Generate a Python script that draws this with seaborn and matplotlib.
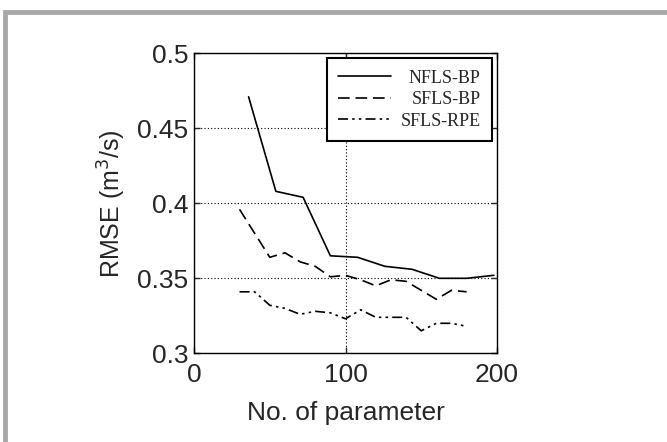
import numpy as np
import pandas as pd
import seaborn as sns
import matplotlib
matplotlib.use("Agg")
import matplotlib.pyplot as plt
from matplotlib.patches import Rectangle

# values
nfls_bp_x = [36, 54, 72, 90, 108, 126, 144, 162, 180, 198]
nfls_bp_y = [0.471, 0.408, 0.404, 0.365, 0.364, 0.358, 0.356, 0.350, 0.350, 0.352]

sfls_bp_x = [30, 50, 60, 70, 80, 90, 100, 110, 120, 130, 140, 150, 160, 170, 180]
sfls_bp_y = [0.396, 0.364, 0.367, 0.361, 0.358, 0.351, 0.352, 0.349, 0.345,
             0.349, 0.348, 0.342, 0.336, 0.342, 0.341]

sfls_rpe_x = [30, 40, 50, 60, 70, 80, 90, 100, 110, 120, 130, 140, 150, 160, 170, 180]
sfls_rpe_y = [0.341, 0.341, 0.332, 0.330, 0.326, 0.328, 0.327, 0.323, 0.329,
              0.324, 0.324, 0.324, 0.315, 0.320, 0.320, 0.318]

labels = ["NFLS-BP", "SFLS-BP", "SFLS-RPE"]

df = pd.concat([
    pd.DataFrame({"x": nfls_bp_x, "rmse": nfls_bp_y, "model": labels[0]}),
    pd.DataFrame({"x": sfls_bp_x, "rmse": sfls_bp_y, "model": labels[1]}),
    pd.DataFrame({"x": sfls_rpe_x, "rmse": sfls_rpe_y, "model": labels[2]}),
], ignore_index=True)

sns.set_style("white")
plt.rcParams["font.family"] = ["Liberation Sans", "DejaVu Sans"]

fig = plt.figure(figsize=(6.67, 4.42), dpi=100)
ax = fig.add_axes([0.291, 0.2007, 0.454, 0.6786])

dash_styles = {
    "NFLS-BP": "",
    "SFLS-BP": (7, 3.5),
    "SFLS-RPE": (6, 2.5, 1.5, 2.5, 1.5, 2.5),
}
sns.lineplot(data=df, x="x", y="rmse", hue="model", style="model",
             palette=["black"] * 3, dashes=dash_styles, linewidth=1.2,
             ax=ax, sort=False)

ax.set_xlim(0, 200)
ax.set_ylim(0.3, 0.5)
ax.set_xticks([0, 100, 200])
ax.set_yticks([0.3, 0.35, 0.4, 0.45, 0.5])
ax.set_yticklabels(["0.3", "0.35", "0.4", "0.45", "0.5"])
ax.grid(True, color="black", linestyle=(0, (1, 2)), linewidth=0.8)
ax.tick_params(direction="in", length=4, width=1, labelsize=19,
               top=True, right=True, bottom=True, left=True, pad=4)
ax.tick_params(axis="x", pad=7)
for s in ax.spines.values():
    s.set_color("black")
    s.set_linewidth(1.0)

ax.set_xlabel("No. of parameter", fontsize=19, labelpad=10)
ax.set_ylabel("RMSE (m$^3$/s)", fontsize=18, labelpad=7)

leg = ax.legend(loc="upper right", bbox_to_anchor=(1, 1),
                borderaxespad=0.25, frameon=True, fancybox=False,
                handlelength=2.9, prop={"family": "Liberation Serif", "size": 13},
                borderpad=0.65, labelspacing=0.25, handletextpad=0.55)
leg.get_frame().set_edgecolor("black")
leg.get_frame().set_linewidth(1.5)
leg.get_frame().set_facecolor("white")
leg.get_frame().set_alpha(1)

# right-align the legend labels like the original
fig.canvas.draw()
r = fig.canvas.get_renderer()
texts = leg.get_texts()
widths = [t.get_window_extent(r).width for t in texts]
for t, w in zip(texts, widths):
    t.set_x(max(widths) - w)

# light grey frame around the figure (top and left only visible)
fig.patches.append(Rectangle((5 / 667, -0.1), 1.2, 1 - 12 / 442 + 0.1,
                             transform=fig.transFigure, fill=False,
                             edgecolor="#a8a8a8", linewidth=3.5))

fig.savefig("out.png", dpi=100)
